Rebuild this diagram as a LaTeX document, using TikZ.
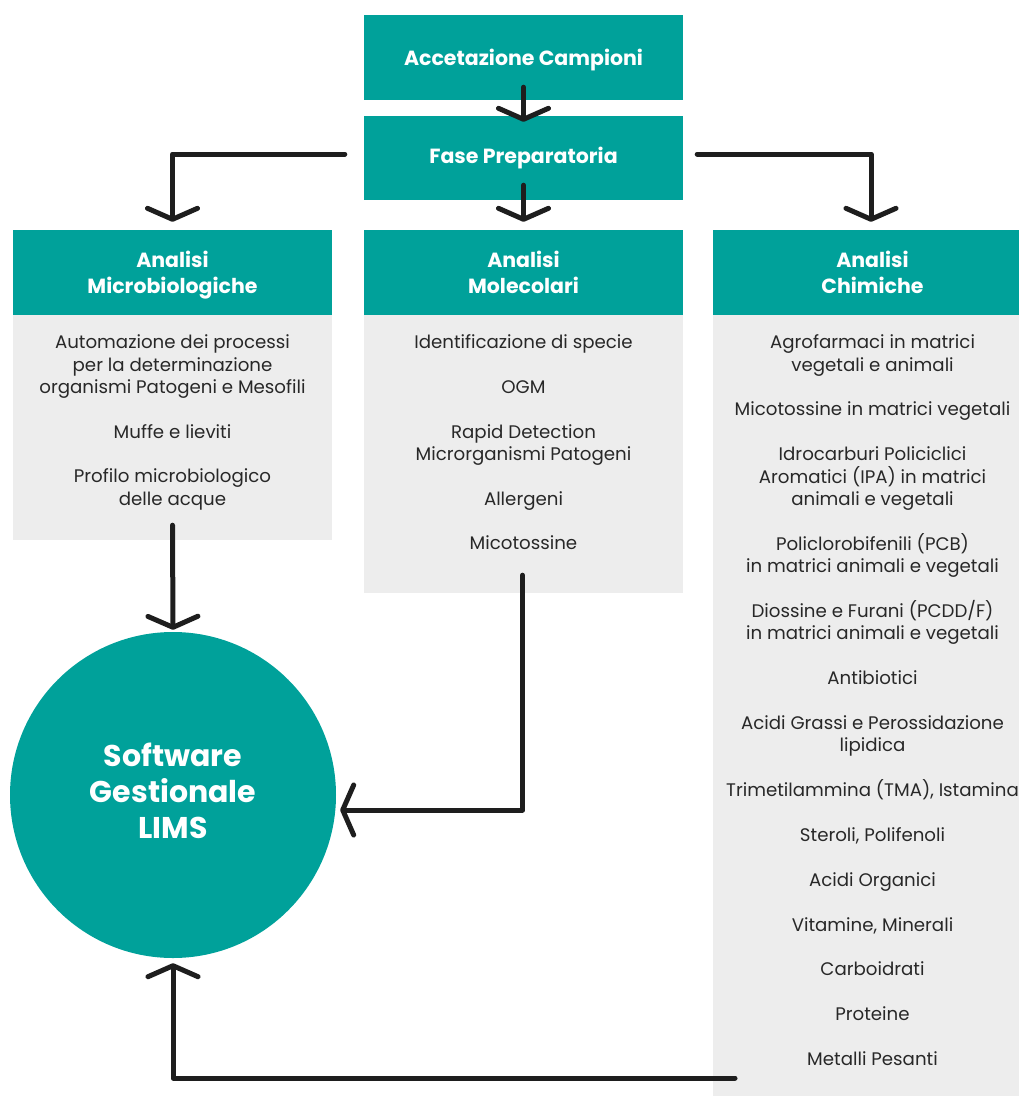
\documentclass[tikz,border=0pt]{standalone}
\usepackage{fontspec}
\setmainfont{Poppins}
\usetikzlibrary{arrows.meta}
\definecolor{teal1}{RGB}{0,161,154}
\definecolor{grayb}{RGB}{237,237,237}
\definecolor{txt}{RGB}{40,40,40}
\definecolor{arr}{RGB}{30,30,30}
\begin{document}
\begin{tikzpicture}[x=1pt,y=-1pt,
  tealbox/.style={fill=teal1, draw=none, text=white, font=\bfseries\fontsize{20.5}{26}\selectfont, align=center, inner sep=0pt},
  graybox/.style={fill=grayb, draw=none, inner sep=0pt},
  item/.style={text=txt, font=\fontsize{18.2}{22.5}\selectfont, anchor=base, inner sep=0pt},
  flow/.style={line width=5pt, draw=arr, line cap=round, line join=round,
    -{Straight Barb[length=11pt, width=50pt, line cap=round, line join=round]}}]
\useasboundingbox (0,0) rectangle (1019,1096);
\clip (0,0) rectangle (1019,1096);

% top boxes
\node[tealbox, text depth=0pt, minimum width=319pt, minimum height=85pt] (acc) at (523.5,57.5) {Accetazione Campioni};
\node[tealbox, minimum width=319pt, minimum height=84pt] (fase) at (523.5,158) {Fase Preparatoria};

% headers
\node[tealbox, text depth=0pt, minimum width=319pt, minimum height=85pt] (mich) at (172.5,272.5) {Analisi\\Microbiologiche};
\node[tealbox, minimum width=319pt, minimum height=85pt] (molh) at (523.5,272.5) {Analisi\\Molecolari};
\node[tealbox, minimum width=319pt, minimum height=85pt] (chh) at (872.5,272.5) {Analisi\\Chimiche};

% gray bodies
\node[graybox, minimum width=319pt, minimum height=225pt] (micb) at (172.5,427.5) {};
\node[graybox, minimum width=319pt, minimum height=278pt] (molb) at (523.5,454) {};
\node[graybox, minimum width=319pt, minimum height=800pt] (chb) at (872.5,715) {};

% circle
\node[circle, fill=teal1, minimum size=326pt, inner sep=0pt] (lims) at (173,795) {};
\node[text=white, align=center, inner sep=0pt, font=\bfseries\fontsize{30}{36}\selectfont] (limst) at (173,791) {Software\\Gestionale\\LIMS};

% texts microbiologiche
\foreach \t/\yy [count=\i] in {Automazione dei processi/342, per la determinazione/364.5, organismi Patogeni e Mesofili/387, Muffe e lieviti/431.5, Profilo microbiologico/476, delle acque/498.5}
  \node[item] (mic\i) at (172.5,\yy+6.5) {\t};

% texts molecolari
\foreach \t/\yy [count=\i] in {Identificazione di specie/342, OGM/387, Rapid Detection/431.5, Microrganismi Patogeni/454, Allergeni/498.5, Micotossine/543}
  \node[item] (mol\i) at (523.5,\yy+6.5) {\t};

% texts chimiche
\foreach \t/\yy [count=\i] in {Agrofarmaci in matrici/342, vegetali e animali/364.5, Micotossine in matrici vegetali/409, Idrocarburi Policiclici/454, Aromatici (IPA) in matrici/476.5, animali e vegetali/499, Policlorobifenili (PCB)/543.5, in matrici animali e vegetali/566, {Diossine e Furani (PCDD/F)}/610.5, in matrici animali e vegetali/633, Antibiotici/678, Acidi Grassi e Perossidazione/722.5, lipidica/745, {Trimetilammina (TMA), Istamina}/790, {Steroli, Polifenoli}/835, Acidi Organici/880, {Vitamine, Minerali}/924.5, Carboidrati/969, Proteine/1014, Metalli Pesanti/1059}
  \node[item] (chi\i) at (872.5,\yy+6.5) {\t};

% connectors
\coordinate (bstart) at (735,1078);
\draw[flow] ([yshift=13pt]acc.south) -- ([yshift=-6pt]fase.north);
\draw[flow] ([yshift=15pt]fase.south) -- ([yshift=8pt]molh.north);
\draw[flow] ([xshift=-19pt,yshift=4pt]fase.west) -| ([yshift=8pt]mich.north);
\draw[flow] ([xshift=14pt,yshift=4pt]fase.east) -| ([xshift=-1.5pt,yshift=8pt]chh.north);
\draw[flow] ([yshift=15pt]micb.south) -- ([yshift=2pt]lims.north);
\draw[flow] ([xshift=-1pt,yshift=18pt]molb.south) |- ([xshift=4pt,yshift=-15pt]lims.east);
\draw[flow] (bstart) -| ([yshift=-5pt]lims.south);
\end{tikzpicture}
\end{document}
